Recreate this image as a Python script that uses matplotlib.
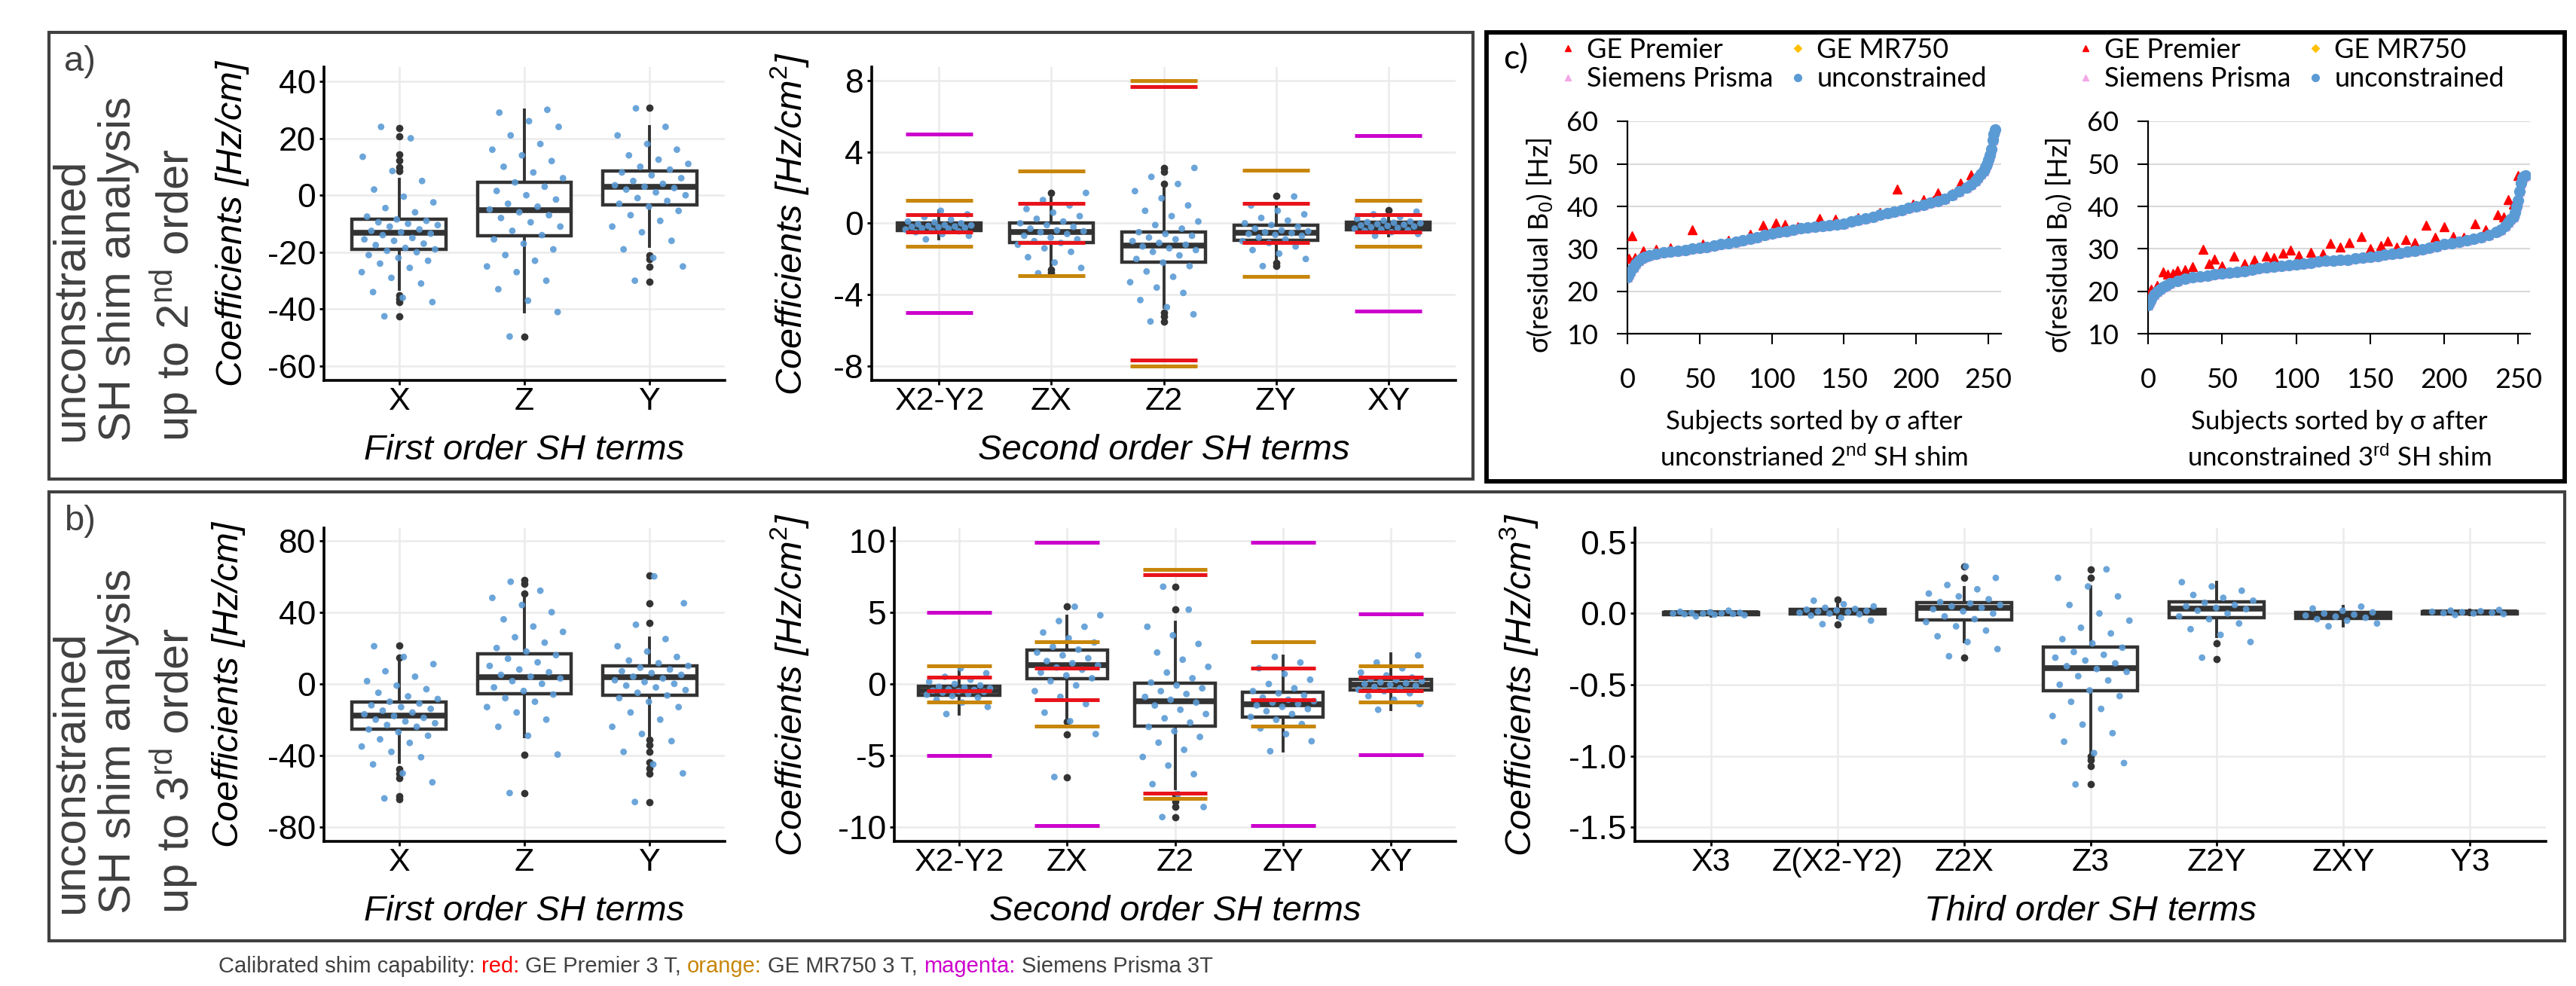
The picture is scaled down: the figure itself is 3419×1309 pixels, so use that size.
import matplotlib
matplotlib.use('Agg')
import matplotlib.pyplot as plt
import numpy as np
from matplotlib import font_manager
from matplotlib.patches import Rectangle
from matplotlib.lines import Line2D
from matplotlib.ticker import FormatStrFormatter

# ------------------------------------
# Datos
# ------------------------------------
first_terms = ['X', 'Z', 'Y']
second_terms = ['X2-Y2', 'ZX', 'Z2', 'ZY', 'XY']
third_terms = ['X3', 'Z(X2-Y2)', 'Z2X', 'Z3', 'Z2Y', 'ZXY', 'Y3']

# caja: (bigote inf, q1, mediana, q3, bigote sup)
box_a1 = [(-33.0, -18.9, -13.2, -8.5, 5.5), (-41.0, -14.2, -5.2, 4.5, 30.0), (-17.9, -3.3, 2.9, 8.6, 24.2)]
fliers_a1 = [[8.6, 9.7, 12.3, 14.3, 20.6, 23.7, -35.2, -36.5, -37.5, -42.5], [-49.6],
             [30.8, -21.0, -22.5, -25.0, -30.4]]
pts_a1 = [
    [-42.5, -37.5, -36, -34, -31, -29, -27, -25.5, -24, -23, -22, -21, -20, -19.5, -19, -18.5, -17.5, -17, -16,
     -15.5, -15, -14, -13.5, -13, -12.5, -12, -11, -10.5, -10, -9.5, -9, -8.5, -7.5, -6, -4.5, -2.5, -0.5, 2, 5,
     8.5, 13.5, 20, 24],
    [-49.6, -41, -37, -33, -30, -27, -25, -23, -21, -19, -17, -15.5, -14, -12.5, -11, -9.5, -8, -7, -6, -5, -4, -3,
     -1.5, 0, 1.5, 3, 4.5, 6, 8, 10, 12, 14, 16, 18, 21, 24, 26, 29, 30],
    [-30, -25, -22, -19, -16, -13, -11, -9, -7, -5.5, -4, -3, -2, -1, 0, 1, 2, 2.5, 3, 3.5, 4, 5, 6, 7, 8, 9, 10,
     11, 12.5, 14, 16, 18, 21, 24, 30.5]]

box_a2 = [(-0.85, -0.4, -0.2, 0.0, 0.7), (-2.45, -1.09, -0.5, 0.0, 1.4), (-4.7, -2.17, -1.24, -0.48, 1.9),
          (-1.95, -0.95, -0.53, -0.12, 0.97), (-0.7, -0.37, -0.15, 0.05, 0.65)]
fliers_a2 = [[], [1.69, -2.6, -2.75], [2.2, 2.9, 3.1, -5.0, -5.2, -5.5], [1.55, -2.2, -2.37], [0.75]]
pts_a2 = [
    [-0.9, -0.7, -0.6, -0.5, -0.45, -0.4, -0.35, -0.3, -0.28, -0.25, -0.22, -0.2, -0.18, -0.15, -0.12, -0.1,
     -0.05, 0.0, 0.05, 0.1, 0.2, 0.35, 0.5, 0.7],
    [-2.8, -2.5, -2.2, -1.9, -1.6, -1.4, -1.2, -1.1, -1.0, -0.9, -0.8, -0.7, -0.6, -0.5, -0.45, -0.4, -0.3, -0.2,
     -0.1, 0.0, 0.1, 0.25, 0.4, 0.6, 0.8, 1.0, 1.3, 1.7],
    [-5.5, -5.1, -4.7, -4.3, -3.9, -3.6, -3.3, -3.0, -2.7, -2.4, -2.2, -2.0, -1.8, -1.6, -1.5, -1.4, -1.3, -1.2,
     -1.1, -1.0, -0.9, -0.8, -0.7, -0.6, -0.5, -0.3, -0.1, 0.1, 0.4, 0.7, 1.0, 1.4, 1.8, 2.2, 2.6, 3.1],
    [-2.4, -2.0, -1.7, -1.5, -1.3, -1.1, -1.0, -0.9, -0.8, -0.7, -0.65, -0.6, -0.55, -0.5, -0.45, -0.4, -0.3,
     -0.2, -0.1, 0.0, 0.15, 0.3, 0.5, 0.7, 1.0, 1.5],
    [-0.7, -0.6, -0.5, -0.42, -0.38, -0.34, -0.3, -0.26, -0.22, -0.18, -0.15, -0.12, -0.08, -0.05, 0.0, 0.03,
     0.06, 0.1, 0.15, 0.25, 0.35, 0.5, 0.65]]

box_b1 = [(-43.7, -25.3, -17.8, -10.3, 12.2), (-29.5, -5.7, 3.8, 16.7, 48.0), (-28.7, -6.2, 3.8, 10.0, 25.5)]
fliers_b1 = [[14.7, 21.3, -47.8, -50.0, -52.8, -62.8, -64.5], [50.5, 56.0, 58.0, -39.5, -61.2],
             [33.8, 45.0, 60.5, -31.0, -34.0, -38.0, -44.0, -47.0, -50.0, -66.0]]
pts_b1 = [
    [-64, -55, -50, -45, -41, -38, -35, -33, -31, -29, -27, -25.5, -24, -23, -22, -21, -20, -19, -18, -17, -16,
     -15, -14, -13, -12, -11, -10, -8.5, -7, -5, -3, -1, 1.5, 4, 7, 11, 15, 21],
    [-61, -39.5, -29, -24, -20, -16, -13, -10, -8, -6, -4, -2, 0, 1.5, 3, 4, 5, 6.5, 8, 10, 12, 14, 16, 18, 20,
     23, 26, 29, 32, 36, 40, 44, 48, 52, 57],
    [-66, -50, -45, -38, -32, -28, -24, -20, -16, -13, -10, -8, -6.5, -5, -3.5, -2, -1, 0, 1, 2, 3, 4, 5, 6, 7, 8,
     9, 10, 11.5, 13, 15, 18, 21, 25, 33, 45, 60]]

box_b2 = [(-2.1, -0.77, -0.46, -0.15, 1.1), (-2.3, 0.37, 1.31, 2.35, 4.75), (-7.3, -2.96, -1.19, 0.06, 4.3),
          (-4.7, -2.29, -1.4, -0.56, 1.94), (-1.8, -0.42, -0.04, 0.33, 2.1)]
fliers_b2 = [[], [5.4, -2.65, -3.5, -6.5], [5.2, 6.8, -7.75, -8.2, -8.6, -9.3], [], []]
pts_b2 = [
    [-2.1, -1.6, -1.3, -1.1, -0.95, -0.85, -0.75, -0.68, -0.6, -0.55, -0.5, -0.46, -0.42, -0.37, -0.3, -0.25,
     -0.2, -0.1, 0.0, 0.15, 0.3, 0.5, 0.75, 1.1],
    [-6.5, -3.5, -2.6, -2.0, -1.4, -0.9, -0.5, -0.1, 0.2, 0.4, 0.6, 0.8, 1.0, 1.15, 1.3, 1.45, 1.6, 1.8, 2.0,
     2.2, 2.4, 2.6, 2.9, 3.2, 3.6, 4.0, 4.4, 4.8, 5.4],
    [-9.3, -8.6, -7.7, -7.0, -6.3, -5.7, -5.1, -4.6, -4.1, -3.7, -3.3, -3.0, -2.7, -2.4, -2.1, -1.8, -1.5, -1.3,
     -1.1, -0.9, -0.7, -0.5, -0.3, -0.1, 0.1, 0.4, 0.8, 1.2, 1.7, 2.2, 2.8, 3.4, 4.0, 5.2, 6.8],
    [-4.7, -4.0, -3.5, -3.1, -2.8, -2.5, -2.3, -2.1, -1.9, -1.75, -1.6, -1.5, -1.4, -1.3, -1.2, -1.1, -0.95,
     -0.8, -0.65, -0.5, -0.3, 0.0, 0.3, 0.7, 1.1, 1.5, 1.9],
    [-1.8, -1.4, -1.1, -0.85, -0.65, -0.5, -0.4, -0.3, -0.2, -0.12, -0.05, 0.0, 0.05, 0.12, 0.2, 0.28, 0.35,
     0.45, 0.6, 0.8, 1.1, 1.5, 2.0]]

box_b3 = [(-0.02, -0.006, 0.0, 0.006, 0.02), (-0.03, -0.003, 0.012, 0.027, 0.06),
          (-0.2, -0.046, 0.0375, 0.075, 0.18), (-0.98, -0.54, -0.383, -0.233, 0.19),
          (-0.16, -0.03, 0.033, 0.083, 0.22), (-0.09, -0.035, -0.015, 0.006, 0.048),
          (-0.01, -0.002, 0.006, 0.014, 0.025)]
fliers_b3 = [[], [0.1, -0.075], [0.25, 0.33, -0.31], [0.25, 0.31, -1.0, -1.03, -1.07, -1.2], [-0.21, -0.32], [], []]
pts_b3 = [
    [-0.02, -0.012, -0.008, -0.005, -0.003, -0.001, 0.0, 0.001, 0.003, 0.005, 0.008, 0.012, 0.02],
    [-0.075, -0.05, -0.03, -0.015, -0.005, 0.0, 0.005, 0.01, 0.014, 0.018, 0.022, 0.027, 0.032, 0.04, 0.05,
     0.065, 0.09],
    [-0.3, -0.25, -0.2, -0.16, -0.12, -0.09, -0.06, -0.04, -0.02, 0.0, 0.015, 0.03, 0.04, 0.05, 0.06, 0.07, 0.08,
     0.1, 0.12, 0.14, 0.17, 0.2, 0.25, 0.33],
    [-1.2, -1.05, -0.98, -0.9, -0.84, -0.78, -0.72, -0.67, -0.62, -0.58, -0.54, -0.5, -0.47, -0.44, -0.41, -0.39,
     -0.37, -0.35, -0.33, -0.31, -0.29, -0.27, -0.24, -0.21, -0.18, -0.14, -0.1, -0.05, 0.0, 0.06, 0.12, 0.19,
     0.25, 0.31],
    [-0.31, -0.2, -0.15, -0.11, -0.07, -0.04, -0.02, 0.0, 0.02, 0.03, 0.04, 0.05, 0.06, 0.075, 0.09, 0.11, 0.13,
     0.16, 0.19, 0.22],
    [-0.09, -0.07, -0.05, -0.04, -0.03, -0.022, -0.015, -0.008, 0.0, 0.008, 0.02, 0.035, 0.048],
    [-0.01, -0.004, 0.0, 0.003, 0.006, 0.009, 0.012, 0.016, 0.02, 0.025]]

# capacidad calibrada (+/-) por termino de 2do orden
red_lim = [0.48, 1.1, 7.65, 1.1, 0.48]
orange_lim = [1.27, 2.93, 8.0, 2.96, 1.28]
magenta_lim = [5.0, 9.92, np.nan, 9.88, 4.92]

# panel c: sigma ordenada
subj_c = [0, 1, 2, 4, 6, 8, 10, 12, 15] + list(range(20, 236, 5)) + \
         [238, 241, 243, 245, 247, 248, 249, 250, 251, 252, 253, 254, 255]
sigma_2nd = [23.4, 24.0, 24.8, 25.7, 26.5, 27.2, 27.7, 28.1, 28.5,
             28.9, 29.2, 29.4, 29.6, 29.8, 30.0, 30.3, 30.5, 30.8, 31.1, 31.4, 31.7, 32.0, 32.4, 32.8, 33.2,
             33.6, 33.9, 34.2, 34.5, 34.8, 35.0, 35.2, 35.4, 35.6, 35.8, 36.0, 36.4, 36.8, 37.2, 37.6, 38.0,
             38.4, 38.8, 39.2, 39.6, 40.0, 40.4, 40.8, 41.2, 41.7, 42.6, 43.6, 44.5,
             45.2, 46.0, 46.8, 47.6, 48.4, 49.2, 50.0, 51.0, 52.0, 53.5, 55.5, 57.0, 58.0]
sigma_3rd = [16.8, 17.5, 18.3, 19.3, 20.0, 20.6, 21.1, 21.5, 22.0,
             22.5, 23.0, 23.3, 23.6, 23.8, 24.0, 24.2, 24.4, 24.6, 24.8, 25.1, 25.4, 25.6, 25.8, 26.0, 26.2,
             26.4, 26.6, 26.8, 27.0, 27.2, 27.3, 27.4, 27.5, 27.7, 27.9, 28.1, 28.3, 28.6, 28.8, 29.0, 29.3,
             29.6, 29.9, 30.3, 30.7, 31.1, 31.4, 31.7, 32.0, 32.4, 32.8, 33.3, 34.0,
             34.6, 35.4, 36.2, 37.0, 37.6, 38.5, 40.0, 41.5, 43.5, 45.5, 46.8, 47.0, 47.2]
premier_2nd_x = [1, 3, 5, 11, 20, 30, 45, 52, 70, 85, 94, 103, 109, 118, 133, 144, 160, 175, 187, 198, 205,
                 212, 215, 225, 231, 238, 245]
premier_2nd_y = [27.8, 33.1, 28.0, 29.6, 29.9, 30.2, 34.5, 31.2, 32.0, 33.5, 35.5, 36.1, 35.7, 35.3, 37.1,
                 37.0, 37.3, 38.5, 44.1, 40.5, 41.6, 41.5, 43.2, 43.0, 45.5, 47.4, 48.5]
premier_3rd_x = [2, 6, 10, 13, 17, 20, 25, 30, 37, 41, 45, 50, 58, 65, 72, 80, 85, 91, 96, 102, 110, 118, 123,
                 130, 136, 144, 150, 157, 162, 168, 174, 180, 188, 194, 200, 206, 213, 221, 228, 236, 240, 243,
                 247, 250]
premier_3rd_y = [20.6, 21.5, 24.6, 24.0, 24.2, 25.0, 25.2, 25.8, 29.9, 26.5, 27.6, 26.0, 28.3, 26.5, 27.5,
                 28.3, 28.0, 29.0, 29.7, 28.5, 29.2, 28.8, 31.3, 30.5, 31.5, 33.0, 30.0, 30.8, 31.8, 30.5,
                 32.2, 31.5, 35.5, 32.8, 35.3, 33.0, 32.8, 36.0, 34.5, 38.0, 37.5, 41.6, 40.5, 47.2]

caption_parts = [('Calibrated shim capability:', '#404040'), ('red:', '#FF0000'),
                 ('GE Premier 3 T,', '#404040'), ('orange:', '#C8860A'), ('GE MR750 3 T,', '#404040'),
                 ('magenta:', '#CC00CC'), ('Siemens Prisma 3T', '#404040')]

# ------------------------------------
# Estilo
# ------------------------------------
W, H = 3419, 1309
DARK = '#333333'
GREY = '#404040'
BLUE = '#5B9BD5'
RED = '#E8141B'
ORANGE = '#C8860A'
MAGENTA = '#CC00CC'

plt.rcParams['font.family'] = ['Liberation Sans', 'DejaVu Sans']
plt.rcParams['axes.unicode_minus'] = False
plt.rcParams['mathtext.fontset'] = 'custom'
plt.rcParams['mathtext.rm'] = 'Liberation Sans'
plt.rcParams['mathtext.it'] = 'Liberation Sans:italic'
plt.rcParams['mathtext.bf'] = 'Liberation Sans:bold'

names = {f.name for f in font_manager.fontManager.ttflist}
NARROW = 'Liberation Sans Narrow' if 'Liberation Sans Narrow' in names else 'Liberation Sans'
XT_SIZE = 34 if NARROW == 'Liberation Sans Narrow' else 31
LATO = ['Lato', 'DejaVu Sans']

fig = plt.figure(figsize=(W / 100, H / 100), dpi=100)


def px_axes(x0, y0, x1, y1):
    return fig.add_axes([x0 / W, 1 - y1 / H, (x1 - x0) / W, (y1 - y0) / H])


def px_box(x0, y0, x1, y1, color, lw):
    fig.add_artist(Rectangle((x0 / W, 1 - y1 / H), (x1 - x0) / W, (y1 - y0) / H, fill=False,
                             edgecolor=color, linewidth=lw, transform=fig.transFigure))


def box_panel(ax, terms, boxes, fliers, points, ylim, yticks, ylabel, xlabel, ylab_x, fmt=None, limits=False):
    pos = np.arange(1, len(terms) + 1)
    stats = [dict(whislo=b[0], q1=b[1], med=b[2], q3=b[3], whishi=b[4], fliers=f) for b, f in zip(boxes, fliers)]
    ax.bxp(stats, positions=pos, widths=0.75, showcaps=False, patch_artist=True,
           boxprops=dict(facecolor='white', edgecolor=DARK, linewidth=3.2),
           medianprops=dict(color=DARK, linewidth=5.5, solid_capstyle='butt'),
           whiskerprops=dict(color=DARK, linewidth=2.8),
           flierprops=dict(marker='o', markerfacecolor=DARK, markeredgecolor='none', markersize=7),
           zorder=2)
    for p, vals in zip(pos, points):
        n = len(vals)
        jit = ((np.arange(n) * 0.618034 + 0.31) % 1.0 - 0.5) * 0.62
        ax.scatter(p + jit, vals, s=40, color=BLUE, alpha=0.9, edgecolors='none', zorder=3)
    if limits:
        for lims, col in [(magenta_lim, MAGENTA), (orange_lim, ORANGE), (red_lim, RED)]:
            for p, v in zip(pos, lims):
                if np.isnan(v):
                    continue
                ax.hlines([v, -v], p - 0.3, p + 0.3, color=col, linewidth=3.6, zorder=4)
    ax.set_xlim(0.4, len(terms) + 0.6)
    ax.set_ylim(*ylim)
    ax.set_yticks(yticks)
    ax.set_xticks(pos, terms)
    if fmt:
        ax.yaxis.set_major_formatter(FormatStrFormatter(fmt))
    ax.grid(True, color='#EBEBEB', linewidth=1.8)
    ax.set_axisbelow(True)
    for s in ['top', 'right']:
        ax.spines[s].set_visible(False)
    for s in ['left', 'bottom']:
        ax.spines[s].set_linewidth(2.6)
        ax.spines[s].set_color('black')
    ax.tick_params(axis='both', colors='black', width=2, length=4)
    ax.tick_params(axis='y', labelsize=32, pad=4)
    ax.tick_params(axis='x', labelsize=XT_SIZE, pad=2)
    for lbl in ax.get_xticklabels():
        lbl.set_family(NARROW)
    ax.set_ylabel(ylabel, fontsize=35, style='italic')
    ax.yaxis.set_label_coords(ylab_x, 0.5)
    ax.yaxis.label.set_va('center')
    ax.set_xlabel(xlabel, fontsize=34, style='italic')
    ax.xaxis.set_label_coords(0.5, -0.2236)
    ax.xaxis.label.set_va('center')


def sigma_panel(ax, y_unc, px_x, px_y, xlabel, xmax):
    ax.plot(subj_c, y_unc, ls='none', marker='^', ms=9, color='#F2A7E6', zorder=2)
    ax.plot(subj_c, y_unc, ls='none', marker='D', ms=7, color='#FFC000', zorder=2)
    ax.plot(px_x, px_y, ls='none', marker='^', ms=9, color='#FF0000', zorder=3)
    ax.plot(subj_c, y_unc, ls='none', marker='o', ms=10, color=BLUE, zorder=4)
    ax.set_xlim(0, xmax)
    ax.set_ylim(10, 60)
    ax.set_xticks(range(0, 251, 50))
    ax.set_yticks(range(10, 61, 10))
    ax.grid(axis='y', color='#D9D9D9', linewidth=1.5)
    ax.set_axisbelow(True)
    for s in ['top', 'right']:
        ax.spines[s].set_visible(False)
    for s in ['left', 'bottom']:
        ax.spines[s].set_linewidth(1.6)
        ax.spines[s].set_color('black')
    ax.tick_params(axis='both', direction='out', length=10, width=1.5, labelsize=26)
    ax.tick_params(axis='x', pad=22)
    ax.tick_params(axis='y', pad=18)
    for lbl in ax.get_xticklabels() + ax.get_yticklabels():
        lbl.set_family(LATO)
    ax.set_ylabel(r'σ(residual B$_0$) [Hz]', fontsize=26, family=LATO)
    ax.yaxis.set_label_coords(-0.234, 0.416)
    ax.yaxis.label.set_va('center')
    ax.set_xlabel(xlabel, fontsize=25, family=LATO, linespacing=1.45)
    ax.xaxis.set_label_coords(0.5, -0.5)
    ax.xaxis.label.set_va('center')


# ------------------------------------
# Recuadros de paneles
# ------------------------------------
px_box(65, 43, 1955, 636, GREY, 3.0)
px_box(1973, 43, 3404, 639, 'black', 4.2)
px_box(65, 653, 3404, 1249, GREY, 3.0)

# ------------------------------------
# Panel a
# ------------------------------------
ax = px_axes(430, 89, 962, 505)
box_panel(ax, first_terms, box_a1, fliers_a1, pts_a1, (-65, 45), [-60, -40, -20, 0, 20, 40],
          'Coefficients [Hz/cm]', 'First order SH terms', -0.229)
ax = px_axes(1157, 89, 1932, 505)
box_panel(ax, second_terms, box_a2, fliers_a2, pts_a2, (-8.8, 8.75), [-8, -4, 0, 4, 8],
          'Coefficients [Hz/cm$^{2}$]', 'Second order SH terms', -0.141, limits=True)

# ------------------------------------
# Panel b
# ------------------------------------
ax = px_axes(430, 701, 962, 1117)
box_panel(ax, first_terms, box_b1, fliers_b1, pts_b1, (-88, 87), [-80, -40, 0, 40, 80],
          'Coefficients [Hz/cm]', 'First order SH terms', -0.237)
ax = px_axes(1187, 701, 1932, 1117)
box_panel(ax, second_terms, box_b2, fliers_b2, pts_b2, (-11, 10.9), [-10, -5, 0, 5, 10],
          'Coefficients [Hz/cm$^{2}$]', 'Second order SH terms', -0.187, limits=True)
ax = px_axes(2170, 701, 3379, 1117)
box_panel(ax, third_terms, box_b3, fliers_b3, pts_b3, (-1.6, 0.6), [-1.5, -1.0, -0.5, 0.0, 0.5],
          'Coefficients [Hz/cm$^{3}$]', 'Third order SH terms', -0.127, fmt='%.1f')

# ------------------------------------
# Panel c
# ------------------------------------
ax = px_axes(2160, 161, 2656, 443.5)
sigma_panel(ax, sigma_2nd, premier_2nd_x, premier_2nd_y,
            'Subjects sorted by σ after\nunconstrianed 2$^{\\mathrm{nd}}$ SH shim', 259)
ax = px_axes(2851, 161, 3358, 443.5)
sigma_panel(ax, sigma_3rd, premier_3rd_x, premier_3rd_y,
            'Subjects sorted by σ after\nunconstrained 3$^{\\mathrm{rd}}$ SH shim', 258)

handles = [Line2D([], [], ls='none', marker='^', ms=6, color='#FF0000'),
           Line2D([], [], ls='none', marker='^', ms=6, color='#F2A7E6'),
           Line2D([], [], ls='none', marker='D', ms=5, color='#FFC000'),
           Line2D([], [], ls='none', marker='o', ms=7, color=BLUE)]
leg_labels = ['GE Premier', 'Siemens Prisma', 'GE MR750', 'unconstrained']
for x_start in [2070, 2757]:
    fig.legend(handles, leg_labels, ncol=2, loc='upper left', bbox_to_anchor=(x_start / W, 1 - 50 / H),
               frameon=False, prop={'family': LATO, 'size': 26}, handlelength=0.6, handletextpad=0.4,
               columnspacing=0.6, labelspacing=0.15, borderpad=0, borderaxespad=0)

# ------------------------------------
# Textos
# ------------------------------------
fig.text(85 / W, 1 - 60 / H, 'a)', fontsize=34, color=GREY, ha='left', va='top')
fig.text(85 / W, 1 - 670 / H, 'b)', fontsize=34, color=GREY, ha='left', va='top')
fig.text(1995 / W, 1 - 58 / H, 'c)', fontsize=32, color='black', ha='left', va='top', family=LATO)
for y_bot, order in [(586, '2$^{\\mathrm{nd}}$'), (1213, '3$^{\\mathrm{rd}}$')]:
    fig.text(166 / W, 1 - y_bot / H, 'unconstrained\nSH shim analysis\nup to ' + order + ' order',
             rotation=90, ha='center', va='bottom', multialignment='left', fontsize=43, color=GREY,
             linespacing=1.2)

renderer = fig.canvas.get_renderer()
x = 290
space = 0.28 * 21 * 100 / 72
for txt, col in caption_parts:
    t = fig.text(x / W, 1 - 1283 / H, txt, color=col, fontsize=21, ha='left', va='center')
    x = t.get_window_extent(renderer).x1 + space

fig.savefig('out.png', dpi=100)
